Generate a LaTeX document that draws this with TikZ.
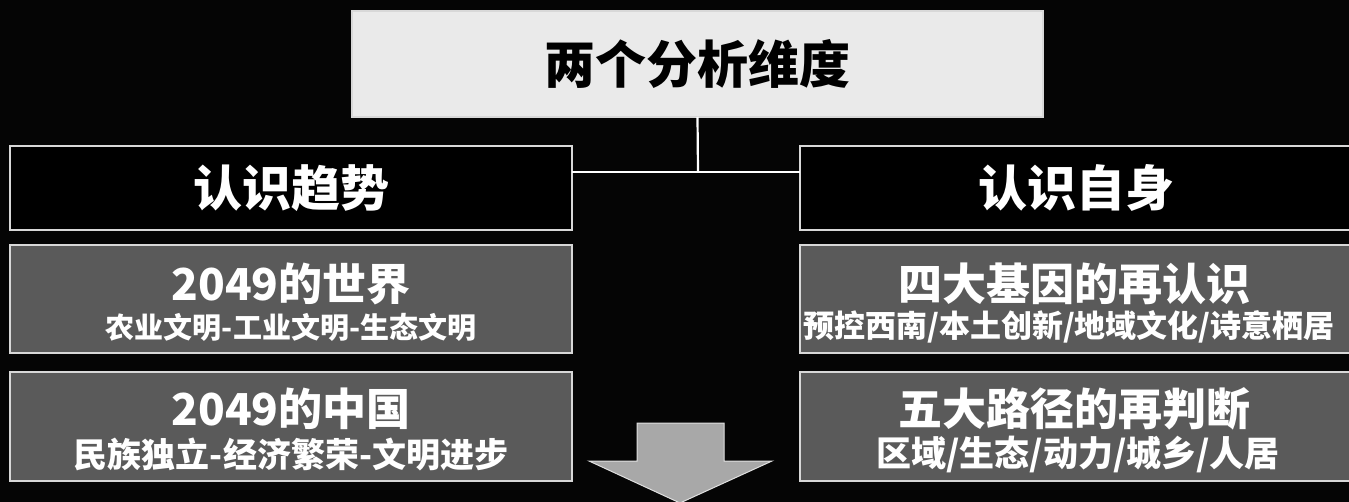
\documentclass[tikz,border=0pt]{standalone}
\usepackage{fontspec}
\newfontfamily\cjk{Noto Sans CJK SC}
\definecolor{bg}{HTML}{050505}
\definecolor{topfill}{HTML}{EAEAEA}
\definecolor{cellfill}{HTML}{5A5A5A}
\definecolor{edge}{HTML}{D8D8D8}
\definecolor{arrowfill}{HTML}{A8A8A8}
\tikzset{
  boxbase/.style={draw=edge, line width=2pt, inner sep=0pt, outer sep=0pt},
  topbox/.style={boxbase, fill=topfill, minimum width=691pt, minimum height=106pt},
  headbox/.style={boxbase, fill=black, minimum height=84pt},
  cellbox/.style={boxbase, fill=cellfill, minimum height=108pt},
  ttl/.style={font=\cjk\bfseries\fontsize{51}{51}\selectfont, text=black, inner sep=0pt},
  headtxt/.style={font=\cjk\bfseries\fontsize{49}{49}\selectfont, text=white, inner sep=0pt},
  celltitle/.style={font=\cjk\bfseries\fontsize{44}{44}\selectfont, text=white, inner sep=0pt},
  cellsub/.style={text=white, inner sep=0pt},
  link/.style={draw=white, line width=2.2pt},
  bigarrow/.style={fill=arrowfill, draw=edge!80, line width=1pt, line join=miter}
}
\begin{document}
\begin{tikzpicture}[x=1pt,y=-1pt]
\fill[bg] (0,0) rectangle (1349,502);
\useasboundingbox (0,0) rectangle (1349,502);

% top box
\node[topbox] (top) at (697.5,64) {};
\node[ttl] (toptxt) at (697.5,64) {两个分析维度};

% headers
\node[headbox, minimum width=562pt] (lh) at (291,188) {};
\node[headtxt] (lhtxt) at (291,188) {认识趋势};
\node[headbox, minimum width=552pt] (rh) at (1076,188) {};
\node[headtxt] (rhtxt) at (1076,188) {认识自身};

% connectors
\coordinate (j) at (698,172);
\draw[link] (top.south) -- (j);
\draw[link] (lh.east |- j) -- (rh.west |- j);

% left cells
\node[cellbox, minimum width=562pt] (l1) at (291,299) {};
\node[celltitle] (l1t) at (291,284) {2049的世界};
\node[cellsub, font=\cjk\bfseries\fontsize{29}{29}\selectfont] (l1s) at (291,327) {农业文明-工业文明-生态文明};

\node[cellbox, minimum width=562pt] (l2) at (291,426.5) {};
\node[celltitle] (l2t) at (291,409) {2049的中国};
\node[cellsub, font=\cjk\bfseries\fontsize{34}{34}\selectfont] (l2s) at (291,454) {民族独立-经济繁荣-文明进步};

% right cells
\node[cellbox, minimum width=552pt] (r1) at (1076,299) {};
\node[celltitle] (r1t) at (1074,284) {四大基因的再认识};
\node[cellsub, font=\cjk\bfseries\fontsize{31}{31}\selectfont] (r1s) at (1069,327) {预控西南/本土创新/地域文化/诗意栖居};

\node[cellbox, minimum width=552pt] (r2) at (1076,426.5) {};
\node[celltitle] (r2t) at (1074,409) {五大路径的再判断};
\node[cellsub, font=\cjk\bfseries\fontsize{35}{35}\selectfont] (r2s) at (1078,454) {区域/生态/动力/城乡/人居};

% down arrow
\draw[bigarrow] (637,423) -- (724,423) -- (724,461) -- (772,461) -- (680,503) -- (589,461) -- (637,461) -- cycle;
\end{tikzpicture}
\end{document}
